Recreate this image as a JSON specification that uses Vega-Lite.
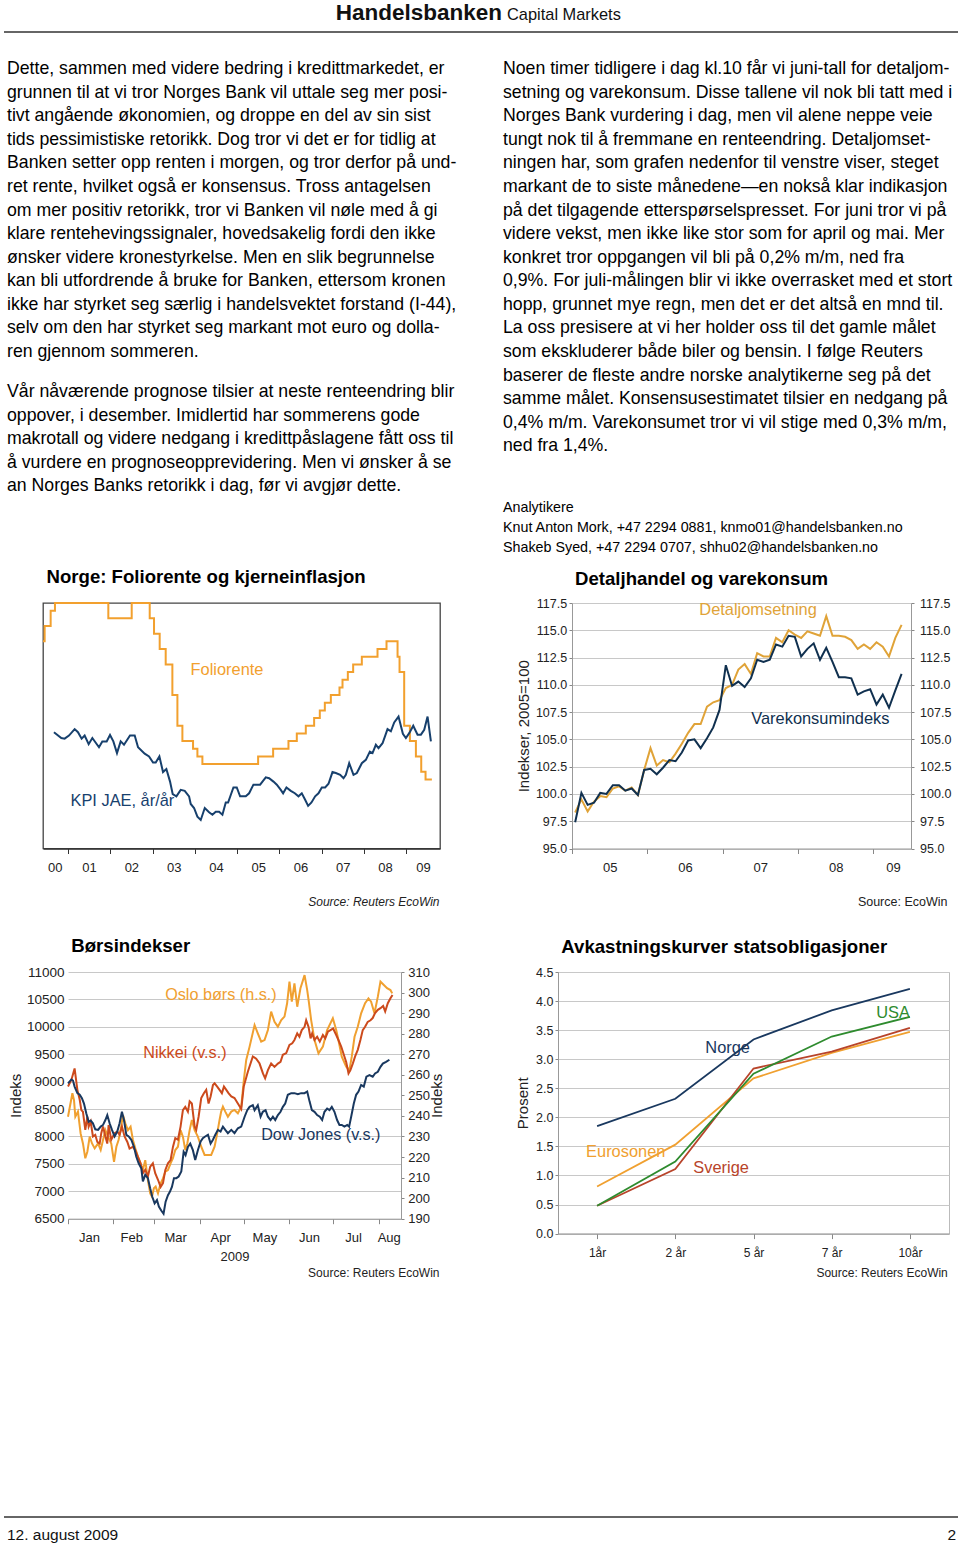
{
"$schema": "https://vega.github.io/schema/vega-lite/v6.json",
"background": "white",
"padding": {"left": 3, "top": 0, "right": 0, "bottom": 0},
"config": {
  "view": {"stroke": null},
  "font": "Liberation Sans, Arial, sans-serif",
  "axis": {"labelFont": "Liberation Sans, Arial, sans-serif", "labelFontSize": 12.5, "labelColor": "#222", "titleFont": "Liberation Sans, Arial, sans-serif", "titleFontWeight": "normal", "titleFontSize": 15, "titleColor": "#222", "tickColor": "#888", "domainColor": "#999", "gridColor": "#c8c8c8", "gridWidth": 1, "labelFlush": false, "labelOverlap": false},
  "title": {"font": "Liberation Sans, Arial, sans-serif", "fontWeight": "bold", "fontSize": 18.6, "color": "#000", "anchor": "start", "frame": "group", "baseline": "alphabetic", "offset": 12.5},
  "text": {"font": "Liberation Sans, Arial, sans-serif"}
},
"datasets": {
  "body": [
    {"col": "L", "row": 1, "text": "Dette, sammen med videre bedring i kredittmarkedet, er"},
    {"col": "L", "row": 2, "text": "grunnen til at vi tror Norges Bank vil uttale seg mer posi-"},
    {"col": "L", "row": 3, "text": "tivt angående økonomien, og droppe en del av sin sist"},
    {"col": "L", "row": 4, "text": "tids pessimistiske retorikk. Dog tror vi det er for tidlig at"},
    {"col": "L", "row": 5, "text": "Banken setter opp renten i morgen, og tror derfor på und-"},
    {"col": "L", "row": 6, "text": "ret rente, hvilket også er konsensus. Tross antagelsen"},
    {"col": "L", "row": 7, "text": "om mer positiv retorikk, tror vi Banken vil nøle med å gi"},
    {"col": "L", "row": 8, "text": "klare rentehevingssignaler, hovedsakelig fordi den ikke"},
    {"col": "L", "row": 9, "text": "ønsker videre kronestyrkelse. Men en slik begrunnelse"},
    {"col": "L", "row": 10, "text": "kan bli utfordrende å bruke for Banken, ettersom kronen"},
    {"col": "L", "row": 11, "text": "ikke har styrket seg særlig i handelsvektet forstand (I-44),"},
    {"col": "L", "row": 12, "text": "selv om den har styrket seg markant mot euro og dolla-"},
    {"col": "L", "row": 13, "text": "ren gjennom sommeren."},
    {"col": "L", "row": 14.7, "text": "Vår nåværende prognose tilsier at neste renteendring blir"},
    {"col": "L", "row": 15.7, "text": "oppover, i desember. Imidlertid har sommerens gode"},
    {"col": "L", "row": 16.7, "text": "makrotall og videre nedgang i kredittpåslagene fått oss til"},
    {"col": "L", "row": 17.7, "text": "å vurdere en prognoseopprevidering. Men vi ønsker å se"},
    {"col": "L", "row": 18.7, "text": "an Norges Banks retorikk i dag, før vi avgjør dette."},
    {"col": "R", "row": 1, "text": "Noen timer tidligere i dag kl.10 får vi juni-tall for detaljom-"},
    {"col": "R", "row": 2, "text": "setning og varekonsum. Disse tallene vil nok bli tatt med i"},
    {"col": "R", "row": 3, "text": "Norges Bank vurdering i dag, men vil alene neppe veie"},
    {"col": "R", "row": 4, "text": "tungt nok til å fremmane en renteendring. Detaljomset-"},
    {"col": "R", "row": 5, "text": "ningen har, som grafen nedenfor til venstre viser, steget"},
    {"col": "R", "row": 6, "text": "markant de to siste månedene—en nokså klar indikasjon"},
    {"col": "R", "row": 7, "text": "på det tilgagende etterspørselspresset. For juni tror vi på"},
    {"col": "R", "row": 8, "text": "videre vekst, men ikke like stor som for april og mai. Mer"},
    {"col": "R", "row": 9, "text": "konkret tror oppgangen vil bli på 0,2% m/m, ned fra"},
    {"col": "R", "row": 10, "text": "0,9%. For juli-målingen blir vi ikke overrasket med et stort"},
    {"col": "R", "row": 11, "text": "hopp, grunnet mye regn, men det er det altså en mnd til."},
    {"col": "R", "row": 12, "text": "La oss presisere at vi her holder oss til det gamle målet"},
    {"col": "R", "row": 13, "text": "som ekskluderer både biler og bensin. I følge Reuters"},
    {"col": "R", "row": 14, "text": "baserer de fleste andre norske analytikerne seg på det"},
    {"col": "R", "row": 15, "text": "samme målet. Konsensusestimatet tilsier en nedgang på"},
    {"col": "R", "row": 16, "text": "0,4% m/m.  Varekonsumet tror vi vil stige med 0,3% m/m,"},
    {"col": "R", "row": 17, "text": "ned fra 1,4%."}
  ],
  "analysts": [
    {"col": "R", "row": 19.62, "text": "Analytikere"},
    {"col": "R", "row": 20.47, "text": "Knut Anton Mork, +47 2294 0881, knmo01@handelsbanken.no"},
    {"col": "R", "row": 21.32, "text": "Shakeb Syed, +47 2294 0707, shhu02@handelsbanken.no"}
  ],
  "folio": [
    {"t":2000.41,"v":5.75},{"t":2000.449,"v":6.25},{"t":2000.591,"v":6.75},{"t":2000.693,"v":7.0},{"t":2001.955,"v":6.5},{"t":2002.508,"v":7.0},{"t":2002.934,"v":6.5},{"t":2003.036,"v":6.0},{"t":2003.17,"v":5.5},{"t":2003.312,"v":5.0},{"t":2003.47,"v":4.0},{"t":2003.589,"v":3.0},{"t":2003.707,"v":2.5},{"t":2003.959,"v":2.25},{"t":2004.062,"v":2.0},{"t":2004.18,"v":1.75},{"t":2005.498,"v":2.0},{"t":2005.853,"v":2.25},{"t":2006.216,"v":2.5},{"t":2006.413,"v":2.75},{"t":2006.626,"v":3.0},{"t":2006.823,"v":3.25},{"t":2006.957,"v":3.5},{"t":2007.076,"v":3.75},{"t":2007.218,"v":4.0},{"t":2007.423,"v":4.25},{"t":2007.494,"v":4.5},{"t":2007.62,"v":4.75},{"t":2007.746,"v":5.0},{"t":2007.951,"v":5.25},{"t":2008.322,"v":5.5},{"t":2008.535,"v":5.75},{"t":2008.796,"v":5.25},{"t":2008.843,"v":4.75},{"t":2008.953,"v":3.0},{"t":2009.088,"v":2.5},{"t":2009.23,"v":2.0},{"t":2009.356,"v":1.5},{"t":2009.458,"v":1.25},{"t":2009.608,"v":1.25}
  ],
  "kpi": [
    {"t":2000.669,"v":2.79},{"t":2000.843,"v":2.6},{"t":2000.922,"v":2.58},{"t":2001.024,"v":2.68},{"t":2001.159,"v":2.89},{"t":2001.237,"v":2.79},{"t":2001.324,"v":2.58},{"t":2001.395,"v":2.68},{"t":2001.49,"v":2.4},{"t":2001.577,"v":2.6},{"t":2001.734,"v":2.3},{"t":2001.813,"v":2.49},{"t":2001.916,"v":2.49},{"t":2001.995,"v":2.7},{"t":2002.074,"v":2.49},{"t":2002.16,"v":2.11},{"t":2002.247,"v":2.49},{"t":2002.326,"v":2.38},{"t":2002.468,"v":2.68},{"t":2002.579,"v":2.68},{"t":2002.658,"v":2.3},{"t":2002.815,"v":2.09},{"t":2002.918,"v":2.0},{"t":2003.013,"v":1.8},{"t":2003.076,"v":1.8},{"t":2003.163,"v":2.0},{"t":2003.249,"v":1.49},{"t":2003.328,"v":1.59},{"t":2003.415,"v":1.18},{"t":2003.478,"v":0.77},{"t":2003.565,"v":0.7},{"t":2003.667,"v":0.91},{"t":2003.762,"v":0.88},{"t":2003.865,"v":0.7},{"t":2003.904,"v":0.45},{"t":2003.983,"v":0.32},{"t":2004.062,"v":0.04},{"t":2004.141,"v":-0.07},{"t":2004.236,"v":0.32},{"t":2004.338,"v":0.18},{"t":2004.417,"v":0.1},{"t":2004.496,"v":0.2},{"t":2004.575,"v":0.2},{"t":2004.654,"v":0.1},{"t":2004.733,"v":0.5},{"t":2004.788,"v":0.5},{"t":2004.914,"v":0.99},{"t":2004.993,"v":0.99},{"t":2005.072,"v":0.7},{"t":2005.206,"v":0.7},{"t":2005.285,"v":0.8},{"t":2005.387,"v":1.08},{"t":2005.545,"v":1.08},{"t":2005.601,"v":1.18},{"t":2005.679,"v":1.32},{"t":2005.758,"v":1.29},{"t":2005.861,"v":1.18},{"t":2005.94,"v":1.08},{"t":2006.034,"v":0.91},{"t":2006.089,"v":0.8},{"t":2006.168,"v":0.99},{"t":2006.271,"v":0.88},{"t":2006.366,"v":0.8},{"t":2006.453,"v":0.7},{"t":2006.531,"v":0.8},{"t":2006.61,"v":0.59},{"t":2006.681,"v":0.39},{"t":2006.76,"v":0.5},{"t":2006.847,"v":0.7},{"t":2006.926,"v":0.8},{"t":2007.005,"v":0.99},{"t":2007.083,"v":0.99},{"t":2007.163,"v":1.11},{"t":2007.257,"v":1.49},{"t":2007.336,"v":1.46},{"t":2007.439,"v":1.4},{"t":2007.518,"v":1.29},{"t":2007.573,"v":1.4},{"t":2007.652,"v":1.78},{"t":2007.754,"v":1.4},{"t":2007.833,"v":1.46},{"t":2007.951,"v":1.78},{"t":2008.046,"v":1.89},{"t":2008.141,"v":2.16},{"t":2008.204,"v":2.11},{"t":2008.283,"v":2.38},{"t":2008.346,"v":2.27},{"t":2008.441,"v":2.43},{"t":2008.559,"v":2.89},{"t":2008.638,"v":2.82},{"t":2008.717,"v":3.11},{"t":2008.819,"v":3.3},{"t":2008.922,"v":2.74},{"t":2008.993,"v":2.6},{"t":2009.072,"v":2.76},{"t":2009.167,"v":3.0},{"t":2009.269,"v":2.71},{"t":2009.348,"v":2.71},{"t":2009.427,"v":2.87},{"t":2009.506,"v":3.3},{"t":2009.585,"v":2.49}
  ],
  "retail": [
    {"t":2005.042,"s":"Detaljomsetning","v":98.3},{"t":2005.125,"s":"Detaljomsetning","v":99.5},{"t":2005.208,"s":"Detaljomsetning","v":98.4},{"t":2005.292,"s":"Detaljomsetning","v":99.3},{"t":2005.375,"s":"Detaljomsetning","v":99.8},{"t":2005.458,"s":"Detaljomsetning","v":99.7},{"t":2005.542,"s":"Detaljomsetning","v":100.5},{"t":2005.625,"s":"Detaljomsetning","v":100.7},{"t":2005.708,"s":"Detaljomsetning","v":100.3},{"t":2005.792,"s":"Detaljomsetning","v":100.6},{"t":2005.875,"s":"Detaljomsetning","v":99.9},{"t":2005.958,"s":"Detaljomsetning","v":102.2},
    {"t":2006.042,"s":"Detaljomsetning","v":104.2},{"t":2006.125,"s":"Detaljomsetning","v":102.6},{"t":2006.208,"s":"Detaljomsetning","v":103.1},{"t":2006.292,"s":"Detaljomsetning","v":102.9},{"t":2006.375,"s":"Detaljomsetning","v":103.7},{"t":2006.458,"s":"Detaljomsetning","v":104.6},{"t":2006.542,"s":"Detaljomsetning","v":105.6},{"t":2006.625,"s":"Detaljomsetning","v":106.4},{"t":2006.708,"s":"Detaljomsetning","v":106.4},{"t":2006.792,"s":"Detaljomsetning","v":108.0},{"t":2006.875,"s":"Detaljomsetning","v":108.4},{"t":2006.958,"s":"Detaljomsetning","v":108.6},
    {"t":2007.042,"s":"Detaljomsetning","v":109.7},{"t":2007.125,"s":"Detaljomsetning","v":110.0},{"t":2007.208,"s":"Detaljomsetning","v":111.4},{"t":2007.292,"s":"Detaljomsetning","v":111.9},{"t":2007.375,"s":"Detaljomsetning","v":111.0},{"t":2007.458,"s":"Detaljomsetning","v":112.9},{"t":2007.542,"s":"Detaljomsetning","v":112.6},{"t":2007.625,"s":"Detaljomsetning","v":112.6},{"t":2007.708,"s":"Detaljomsetning","v":114.3},{"t":2007.792,"s":"Detaljomsetning","v":113.9},{"t":2007.875,"s":"Detaljomsetning","v":115.0},{"t":2007.958,"s":"Detaljomsetning","v":114.6},
    {"t":2008.042,"s":"Detaljomsetning","v":114.3},{"t":2008.125,"s":"Detaljomsetning","v":114.9},{"t":2008.208,"s":"Detaljomsetning","v":114.7},{"t":2008.292,"s":"Detaljomsetning","v":114.5},{"t":2008.375,"s":"Detaljomsetning","v":116.3},{"t":2008.458,"s":"Detaljomsetning","v":114.5},{"t":2008.542,"s":"Detaljomsetning","v":114.5},{"t":2008.625,"s":"Detaljomsetning","v":114.4},{"t":2008.708,"s":"Detaljomsetning","v":114.1},{"t":2008.792,"s":"Detaljomsetning","v":113.3},{"t":2008.875,"s":"Detaljomsetning","v":113.7},{"t":2008.958,"s":"Detaljomsetning","v":113.3},
    {"t":2009.042,"s":"Detaljomsetning","v":113.9},{"t":2009.125,"s":"Detaljomsetning","v":113.5},{"t":2009.208,"s":"Detaljomsetning","v":112.6},{"t":2009.292,"s":"Detaljomsetning","v":114.3},{"t":2009.375,"s":"Detaljomsetning","v":115.5},
    {"t":2005.042,"s":"Varekonsumindeks","v":97.4},{"t":2005.125,"s":"Varekonsumindeks","v":100.1},{"t":2005.208,"s":"Varekonsumindeks","v":99.0},{"t":2005.292,"s":"Varekonsumindeks","v":99.2},{"t":2005.375,"s":"Varekonsumindeks","v":100.1},{"t":2005.458,"s":"Varekonsumindeks","v":100.0},{"t":2005.542,"s":"Varekonsumindeks","v":100.8},{"t":2005.625,"s":"Varekonsumindeks","v":100.8},{"t":2005.708,"s":"Varekonsumindeks","v":100.3},{"t":2005.792,"s":"Varekonsumindeks","v":100.5},{"t":2005.875,"s":"Varekonsumindeks","v":99.9},{"t":2005.958,"s":"Varekonsumindeks","v":102.2},
    {"t":2006.042,"s":"Varekonsumindeks","v":102.3},{"t":2006.125,"s":"Varekonsumindeks","v":101.8},{"t":2006.208,"s":"Varekonsumindeks","v":102.4},{"t":2006.292,"s":"Varekonsumindeks","v":103.1},{"t":2006.375,"s":"Varekonsumindeks","v":103.0},{"t":2006.458,"s":"Varekonsumindeks","v":103.8},{"t":2006.542,"s":"Varekonsumindeks","v":104.9},{"t":2006.625,"s":"Varekonsumindeks","v":105.0},{"t":2006.708,"s":"Varekonsumindeks","v":104.2},{"t":2006.792,"s":"Varekonsumindeks","v":105.1},{"t":2006.875,"s":"Varekonsumindeks","v":106.1},{"t":2006.958,"s":"Varekonsumindeks","v":107.7},
    {"t":2007.042,"s":"Varekonsumindeks","v":111.8},{"t":2007.125,"s":"Varekonsumindeks","v":109.9},{"t":2007.208,"s":"Varekonsumindeks","v":110.3},{"t":2007.292,"s":"Varekonsumindeks","v":109.8},{"t":2007.375,"s":"Varekonsumindeks","v":110.6},{"t":2007.458,"s":"Varekonsumindeks","v":112.3},{"t":2007.542,"s":"Varekonsumindeks","v":112.1},{"t":2007.625,"s":"Varekonsumindeks","v":112.3},{"t":2007.708,"s":"Varekonsumindeks","v":113.7},{"t":2007.792,"s":"Varekonsumindeks","v":113.5},{"t":2007.875,"s":"Varekonsumindeks","v":114.5},{"t":2007.958,"s":"Varekonsumindeks","v":114.4},
    {"t":2008.042,"s":"Varekonsumindeks","v":112.6},{"t":2008.125,"s":"Varekonsumindeks","v":113.3},{"t":2008.208,"s":"Varekonsumindeks","v":113.8},{"t":2008.292,"s":"Varekonsumindeks","v":112.3},{"t":2008.375,"s":"Varekonsumindeks","v":113.4},{"t":2008.458,"s":"Varekonsumindeks","v":112.1},{"t":2008.542,"s":"Varekonsumindeks","v":110.7},{"t":2008.625,"s":"Varekonsumindeks","v":110.7},{"t":2008.708,"s":"Varekonsumindeks","v":110.6},{"t":2008.792,"s":"Varekonsumindeks","v":109.1},{"t":2008.875,"s":"Varekonsumindeks","v":109.4},{"t":2008.958,"s":"Varekonsumindeks","v":109.6},
    {"t":2009.042,"s":"Varekonsumindeks","v":108.2},{"t":2009.125,"s":"Varekonsumindeks","v":109.1},{"t":2009.208,"s":"Varekonsumindeks","v":107.9},{"t":2009.292,"s":"Varekonsumindeks","v":109.5},{"t":2009.375,"s":"Varekonsumindeks","v":111.0}
  ],
  "stocks": [
    {"d":1.0,"s":"Nikkei (v.s.)","v":8910},{"d":3.3,"s":"Nikkei (v.s.)","v":9030},{"d":5.5,"s":"Nikkei (v.s.)","v":9240},{"d":7.4,"s":"Nikkei (v.s.)","v":8850},{"d":9.0,"s":"Nikkei (v.s.)","v":8670},{"d":10.1,"s":"Nikkei (v.s.)","v":8480},{"d":11.2,"s":"Nikkei (v.s.)","v":8450},{"d":12.8,"s":"Nikkei (v.s.)","v":8120},{"d":14.2,"s":"Nikkei (v.s.)","v":8360},{"d":15.1,"s":"Nikkei (v.s.)","v":8180},{"d":16.5,"s":"Nikkei (v.s.)","v":8270},{"d":18.0,"s":"Nikkei (v.s.)","v":8000},{"d":19.6,"s":"Nikkei (v.s.)","v":8030},{"d":21.0,"s":"Nikkei (v.s.)","v":7900},{"d":22.6,"s":"Nikkei (v.s.)","v":7870},{"d":23.7,"s":"Nikkei (v.s.)","v":8060},{"d":24.9,"s":"Nikkei (v.s.)","v":8180},{"d":26.5,"s":"Nikkei (v.s.)","v":8000},{"d":27.8,"s":"Nikkei (v.s.)","v":7870},{"d":28.7,"s":"Nikkei (v.s.)","v":8210},{"d":30.5,"s":"Nikkei (v.s.)","v":7940},{"d":32.8,"s":"Nikkei (v.s.)","v":8060},{"d":34.6,"s":"Nikkei (v.s.)","v":8090},{"d":36.2,"s":"Nikkei (v.s.)","v":8030},{"d":37.8,"s":"Nikkei (v.s.)","v":8180},{"d":39.6,"s":"Nikkei (v.s.)","v":8000},{"d":41.5,"s":"Nikkei (v.s.)","v":7900},{"d":43.0,"s":"Nikkei (v.s.)","v":7780},{"d":45.3,"s":"Nikkei (v.s.)","v":7810},{"d":46.9,"s":"Nikkei (v.s.)","v":7750},{"d":48.7,"s":"Nikkei (v.s.)","v":7630},{"d":50.5,"s":"Nikkei (v.s.)","v":7510},{"d":52.1,"s":"Nikkei (v.s.)","v":7330},{"d":53.7,"s":"Nikkei (v.s.)","v":7390},{"d":55.5,"s":"Nikkei (v.s.)","v":7270},{"d":57.1,"s":"Nikkei (v.s.)","v":7450},{"d":58.9,"s":"Nikkei (v.s.)","v":7510},{"d":60.5,"s":"Nikkei (v.s.)","v":7330},{"d":62.4,"s":"Nikkei (v.s.)","v":7210},{"d":64.2,"s":"Nikkei (v.s.)","v":7080},{"d":65.8,"s":"Nikkei (v.s.)","v":7150},{"d":67.4,"s":"Nikkei (v.s.)","v":7390},{"d":69.2,"s":"Nikkei (v.s.)","v":7510},{"d":71.0,"s":"Nikkei (v.s.)","v":7570},{"d":72.6,"s":"Nikkei (v.s.)","v":7810},{"d":74.2,"s":"Nikkei (v.s.)","v":7970},{"d":76.0,"s":"Nikkei (v.s.)","v":7940},{"d":77.8,"s":"Nikkei (v.s.)","v":8180},{"d":79.4,"s":"Nikkei (v.s.)","v":8480},{"d":81.0,"s":"Nikkei (v.s.)","v":8540},{"d":82.8,"s":"Nikkei (v.s.)","v":8450},{"d":84.0,"s":"Nikkei (v.s.)","v":8640},{"d":85.5,"s":"Nikkei (v.s.)","v":8600},{"d":87.4,"s":"Nikkei (v.s.)","v":8180},{"d":88.5,"s":"Nikkei (v.s.)","v":8120},{"d":90.1,"s":"Nikkei (v.s.)","v":8360},{"d":91.9,"s":"Nikkei (v.s.)","v":8700},{"d":93.7,"s":"Nikkei (v.s.)","v":8790},{"d":95.3,"s":"Nikkei (v.s.)","v":8850},{"d":96.9,"s":"Nikkei (v.s.)","v":8600},{"d":98.3,"s":"Nikkei (v.s.)","v":8730},{"d":99.9,"s":"Nikkei (v.s.)","v":8940},{"d":101.0,"s":"Nikkei (v.s.)","v":8970},{"d":102.8,"s":"Nikkei (v.s.)","v":8910},{"d":104.4,"s":"Nikkei (v.s.)","v":8850},{"d":106.0,"s":"Nikkei (v.s.)","v":8790},{"d":107.4,"s":"Nikkei (v.s.)","v":8910},{"d":109.0,"s":"Nikkei (v.s.)","v":8850},{"d":110.5,"s":"Nikkei (v.s.)","v":8790},{"d":112.4,"s":"Nikkei (v.s.)","v":8730},{"d":114.6,"s":"Nikkei (v.s.)","v":8700},{"d":116.9,"s":"Nikkei (v.s.)","v":8600},{"d":119.2,"s":"Nikkei (v.s.)","v":8500},{"d":120.9,"s":"Nikkei (v.s.)","v":8910},{"d":123.7,"s":"Nikkei (v.s.)","v":9180},{"d":127.1,"s":"Nikkei (v.s.)","v":9460},{"d":129.4,"s":"Nikkei (v.s.)","v":9420},{"d":131.7,"s":"Nikkei (v.s.)","v":9330},{"d":134.0,"s":"Nikkei (v.s.)","v":9150},{"d":135.5,"s":"Nikkei (v.s.)","v":9060},{"d":137.4,"s":"Nikkei (v.s.)","v":9210},{"d":139.6,"s":"Nikkei (v.s.)","v":9330},{"d":141.9,"s":"Nikkei (v.s.)","v":9270},{"d":144.2,"s":"Nikkei (v.s.)","v":9330},{"d":146.0,"s":"Nikkei (v.s.)","v":9360},{"d":147.6,"s":"Nikkei (v.s.)","v":9490},{"d":149.9,"s":"Nikkei (v.s.)","v":9520},{"d":152.1,"s":"Nikkei (v.s.)","v":9670},{"d":154.0,"s":"Nikkei (v.s.)","v":9700},{"d":155.5,"s":"Nikkei (v.s.)","v":9760},{"d":157.4,"s":"Nikkei (v.s.)","v":9880},{"d":158.9,"s":"Nikkei (v.s.)","v":9820},{"d":160.5,"s":"Nikkei (v.s.)","v":9940},{"d":162.4,"s":"Nikkei (v.s.)","v":10000},{"d":163.5,"s":"Nikkei (v.s.)","v":10120},{"d":165.1,"s":"Nikkei (v.s.)","v":10000},{"d":166.5,"s":"Nikkei (v.s.)","v":9790},{"d":167.6,"s":"Nikkei (v.s.)","v":9880},{"d":169.2,"s":"Nikkei (v.s.)","v":9760},{"d":171.0,"s":"Nikkei (v.s.)","v":9820},{"d":172.8,"s":"Nikkei (v.s.)","v":9730},{"d":174.9,"s":"Nikkei (v.s.)","v":9850},{"d":176.5,"s":"Nikkei (v.s.)","v":9790},{"d":178.3,"s":"Nikkei (v.s.)","v":9910},{"d":180.1,"s":"Nikkei (v.s.)","v":9940},{"d":181.9,"s":"Nikkei (v.s.)","v":9970},{"d":184.0,"s":"Nikkei (v.s.)","v":9850},{"d":185.5,"s":"Nikkei (v.s.)","v":9760},{"d":187.4,"s":"Nikkei (v.s.)","v":9640},{"d":189.2,"s":"Nikkei (v.s.)","v":9490},{"d":190.8,"s":"Nikkei (v.s.)","v":9360},{"d":192.4,"s":"Nikkei (v.s.)","v":9150},{"d":193.7,"s":"Nikkei (v.s.)","v":9210},{"d":195.3,"s":"Nikkei (v.s.)","v":9330},{"d":196.9,"s":"Nikkei (v.s.)","v":9460},{"d":198.7,"s":"Nikkei (v.s.)","v":9580},{"d":200.5,"s":"Nikkei (v.s.)","v":9760},{"d":202.1,"s":"Nikkei (v.s.)","v":9940},{"d":203.7,"s":"Nikkei (v.s.)","v":10000},{"d":205.5,"s":"Nikkei (v.s.)","v":10090},{"d":207.4,"s":"Nikkei (v.s.)","v":10120},{"d":208.9,"s":"Nikkei (v.s.)","v":10160},{"d":210.5,"s":"Nikkei (v.s.)","v":10250},{"d":212.4,"s":"Nikkei (v.s.)","v":10310},{"d":214.2,"s":"Nikkei (v.s.)","v":10340},{"d":216.0,"s":"Nikkei (v.s.)","v":10380},{"d":217.4,"s":"Nikkei (v.s.)","v":10280},{"d":219.2,"s":"Nikkei (v.s.)","v":10430},{"d":221.0,"s":"Nikkei (v.s.)","v":10520},{"d":222.4,"s":"Nikkei (v.s.)","v":10580},
    {"d":1.0,"s":"Dow Jones (v.s.)","v":8970},{"d":3.3,"s":"Dow Jones (v.s.)","v":9040},{"d":4.4,"s":"Dow Jones (v.s.)","v":9020},{"d":5.5,"s":"Dow Jones (v.s.)","v":8910},{"d":7.4,"s":"Dow Jones (v.s.)","v":8790},{"d":9.0,"s":"Dow Jones (v.s.)","v":8760},{"d":10.5,"s":"Dow Jones (v.s.)","v":8700},{"d":11.9,"s":"Dow Jones (v.s.)","v":8600},{"d":13.5,"s":"Dow Jones (v.s.)","v":8420},{"d":15.1,"s":"Dow Jones (v.s.)","v":8270},{"d":16.5,"s":"Dow Jones (v.s.)","v":8290},{"d":18.0,"s":"Dow Jones (v.s.)","v":8240},{"d":19.6,"s":"Dow Jones (v.s.)","v":8130},{"d":21.5,"s":"Dow Jones (v.s.)","v":8120},{"d":23.3,"s":"Dow Jones (v.s.)","v":8180},{"d":24.9,"s":"Dow Jones (v.s.)","v":8210},{"d":26.5,"s":"Dow Jones (v.s.)","v":8300},{"d":27.8,"s":"Dow Jones (v.s.)","v":8390},{"d":29.4,"s":"Dow Jones (v.s.)","v":8240},{"d":31.0,"s":"Dow Jones (v.s.)","v":8120},{"d":32.8,"s":"Dow Jones (v.s.)","v":8000},{"d":34.6,"s":"Dow Jones (v.s.)","v":8090},{"d":36.2,"s":"Dow Jones (v.s.)","v":8240},{"d":37.8,"s":"Dow Jones (v.s.)","v":8450},{"d":39.2,"s":"Dow Jones (v.s.)","v":8300},{"d":40.8,"s":"Dow Jones (v.s.)","v":8030},{"d":42.4,"s":"Dow Jones (v.s.)","v":8000},{"d":44.2,"s":"Dow Jones (v.s.)","v":7940},{"d":46.0,"s":"Dow Jones (v.s.)","v":7810},{"d":47.6,"s":"Dow Jones (v.s.)","v":7630},{"d":49.2,"s":"Dow Jones (v.s.)","v":7510},{"d":51.0,"s":"Dow Jones (v.s.)","v":7420},{"d":52.1,"s":"Dow Jones (v.s.)","v":7180},{"d":53.7,"s":"Dow Jones (v.s.)","v":7300},{"d":55.5,"s":"Dow Jones (v.s.)","v":7240},{"d":57.1,"s":"Dow Jones (v.s.)","v":7050},{"d":58.5,"s":"Dow Jones (v.s.)","v":6900},{"d":60.1,"s":"Dow Jones (v.s.)","v":6780},{"d":61.7,"s":"Dow Jones (v.s.)","v":6840},{"d":63.0,"s":"Dow Jones (v.s.)","v":6720},{"d":64.6,"s":"Dow Jones (v.s.)","v":6650},{"d":66.2,"s":"Dow Jones (v.s.)","v":6590},{"d":67.6,"s":"Dow Jones (v.s.)","v":6810},{"d":69.2,"s":"Dow Jones (v.s.)","v":6930},{"d":70.5,"s":"Dow Jones (v.s.)","v":6990},{"d":71.9,"s":"Dow Jones (v.s.)","v":7080},{"d":73.3,"s":"Dow Jones (v.s.)","v":7240},{"d":74.9,"s":"Dow Jones (v.s.)","v":7240},{"d":76.5,"s":"Dow Jones (v.s.)","v":7270},{"d":78.3,"s":"Dow Jones (v.s.)","v":7360},{"d":79.9,"s":"Dow Jones (v.s.)","v":7720},{"d":81.2,"s":"Dow Jones (v.s.)","v":7660},{"d":82.8,"s":"Dow Jones (v.s.)","v":7810},{"d":84.4,"s":"Dow Jones (v.s.)","v":7870},{"d":86.2,"s":"Dow Jones (v.s.)","v":7750},{"d":87.8,"s":"Dow Jones (v.s.)","v":7570},{"d":89.6,"s":"Dow Jones (v.s.)","v":7750},{"d":91.5,"s":"Dow Jones (v.s.)","v":7910},{"d":93.0,"s":"Dow Jones (v.s.)","v":7970},{"d":94.6,"s":"Dow Jones (v.s.)","v":8000},{"d":96.5,"s":"Dow Jones (v.s.)","v":8030},{"d":98.3,"s":"Dow Jones (v.s.)","v":7870},{"d":99.9,"s":"Dow Jones (v.s.)","v":7940},{"d":101.5,"s":"Dow Jones (v.s.)","v":8030},{"d":103.3,"s":"Dow Jones (v.s.)","v":8120},{"d":105.1,"s":"Dow Jones (v.s.)","v":8090},{"d":106.7,"s":"Dow Jones (v.s.)","v":8180},{"d":108.3,"s":"Dow Jones (v.s.)","v":8120},{"d":110.1,"s":"Dow Jones (v.s.)","v":8060},{"d":112.4,"s":"Dow Jones (v.s.)","v":8120},{"d":114.6,"s":"Dow Jones (v.s.)","v":8060},{"d":116.9,"s":"Dow Jones (v.s.)","v":8150},{"d":119.2,"s":"Dow Jones (v.s.)","v":8180},{"d":121.5,"s":"Dow Jones (v.s.)","v":8360},{"d":123.3,"s":"Dow Jones (v.s.)","v":8480},{"d":124.9,"s":"Dow Jones (v.s.)","v":8540},{"d":127.1,"s":"Dow Jones (v.s.)","v":8570},{"d":128.3,"s":"Dow Jones (v.s.)","v":8480},{"d":130.5,"s":"Dow Jones (v.s.)","v":8570},{"d":132.4,"s":"Dow Jones (v.s.)","v":8360},{"d":133.9,"s":"Dow Jones (v.s.)","v":8450},{"d":135.8,"s":"Dow Jones (v.s.)","v":8480},{"d":137.4,"s":"Dow Jones (v.s.)","v":8360},{"d":139.2,"s":"Dow Jones (v.s.)","v":8300},{"d":140.8,"s":"Dow Jones (v.s.)","v":8360},{"d":142.4,"s":"Dow Jones (v.s.)","v":8300},{"d":144.2,"s":"Dow Jones (v.s.)","v":8390},{"d":146.0,"s":"Dow Jones (v.s.)","v":8450},{"d":147.6,"s":"Dow Jones (v.s.)","v":8540},{"d":149.2,"s":"Dow Jones (v.s.)","v":8600},{"d":151.0,"s":"Dow Jones (v.s.)","v":8760},{"d":153.3,"s":"Dow Jones (v.s.)","v":8790},{"d":155.5,"s":"Dow Jones (v.s.)","v":8790},{"d":157.8,"s":"Dow Jones (v.s.)","v":8770},{"d":160.1,"s":"Dow Jones (v.s.)","v":8790},{"d":162.4,"s":"Dow Jones (v.s.)","v":8790},{"d":164.2,"s":"Dow Jones (v.s.)","v":8820},{"d":165.8,"s":"Dow Jones (v.s.)","v":8640},{"d":167.4,"s":"Dow Jones (v.s.)","v":8480},{"d":169.2,"s":"Dow Jones (v.s.)","v":8450},{"d":171.0,"s":"Dow Jones (v.s.)","v":8390},{"d":172.8,"s":"Dow Jones (v.s.)","v":8360},{"d":174.4,"s":"Dow Jones (v.s.)","v":8300},{"d":176.0,"s":"Dow Jones (v.s.)","v":8450},{"d":177.8,"s":"Dow Jones (v.s.)","v":8510},{"d":179.4,"s":"Dow Jones (v.s.)","v":8480},{"d":181.0,"s":"Dow Jones (v.s.)","v":8540},{"d":182.8,"s":"Dow Jones (v.s.)","v":8450},{"d":184.6,"s":"Dow Jones (v.s.)","v":8300},{"d":186.2,"s":"Dow Jones (v.s.)","v":8210},{"d":187.8,"s":"Dow Jones (v.s.)","v":8210},{"d":189.6,"s":"Dow Jones (v.s.)","v":8180},{"d":191.5,"s":"Dow Jones (v.s.)","v":8210},{"d":192.8,"s":"Dow Jones (v.s.)","v":8180},{"d":194.2,"s":"Dow Jones (v.s.)","v":8360},{"d":196.0,"s":"Dow Jones (v.s.)","v":8600},{"d":197.6,"s":"Dow Jones (v.s.)","v":8760},{"d":199.2,"s":"Dow Jones (v.s.)","v":8820},{"d":201.0,"s":"Dow Jones (v.s.)","v":8940},{"d":202.8,"s":"Dow Jones (v.s.)","v":8910},{"d":204.6,"s":"Dow Jones (v.s.)","v":9090},{"d":206.7,"s":"Dow Jones (v.s.)","v":9120},{"d":208.9,"s":"Dow Jones (v.s.)","v":9090},{"d":210.5,"s":"Dow Jones (v.s.)","v":9150},{"d":212.4,"s":"Dow Jones (v.s.)","v":9180},{"d":214.2,"s":"Dow Jones (v.s.)","v":9270},{"d":215.8,"s":"Dow Jones (v.s.)","v":9330},{"d":218.0,"s":"Dow Jones (v.s.)","v":9360},{"d":220.3,"s":"Dow Jones (v.s.)","v":9400}
  ],
  "oslo": [
    {"d":1.0,"v":239.6},{"d":4.0,"v":251.0},{"d":5.1,"v":247.7},{"d":6.0,"v":239.6},{"d":7.8,"v":242.1},{"d":9.6,"v":231.5},{"d":11.2,"v":226.6},{"d":12.8,"v":219.4},{"d":14.2,"v":222.6},{"d":15.8,"v":229.9},{"d":17.4,"v":226.6},{"d":19.2,"v":224.2},{"d":21.5,"v":226.6},{"d":23.3,"v":223.4},{"d":24.9,"v":228.3},{"d":26.5,"v":233.1},{"d":28.3,"v":229.9},{"d":30.5,"v":226.6},{"d":32.4,"v":217.7},{"d":34.0,"v":225.0},{"d":35.5,"v":228.3},{"d":36.9,"v":233.1},{"d":38.5,"v":240.4},{"d":40.1,"v":236.4},{"d":41.9,"v":233.1},{"d":43.7,"v":234.8},{"d":45.3,"v":228.3},{"d":46.9,"v":224.2},{"d":48.7,"v":220.2},{"d":50.5,"v":216.9},{"d":52.1,"v":213.7},{"d":53.7,"v":218.5},{"d":55.5,"v":208.8},{"d":57.1,"v":202.3},{"d":58.3,"v":200.7},{"d":59.6,"v":204.8},{"d":60.8,"v":205.6},{"d":62.4,"v":202.3},{"d":64.2,"v":207.2},{"d":65.8,"v":209.6},{"d":67.4,"v":212.9},{"d":69.2,"v":213.7},{"d":71.0,"v":216.9},{"d":72.6,"v":219.4},{"d":74.2,"v":223.4},{"d":76.0,"v":225.0},{"d":77.8,"v":233.1},{"d":79.4,"v":229.9},{"d":81.0,"v":223.4},{"d":82.4,"v":226.6},{"d":84.0,"v":233.1},{"d":85.5,"v":238.0},{"d":87.4,"v":233.1},{"d":89.6,"v":229.9},{"d":91.9,"v":225.0},{"d":94.2,"v":221.0},{"d":96.5,"v":221.0},{"d":98.7,"v":221.0},{"d":101.0,"v":225.0},{"d":102.8,"v":231.5},{"d":104.4,"v":238.0},{"d":105.5,"v":242.1},{"d":106.7,"v":244.5},{"d":108.3,"v":242.1},{"d":110.1,"v":239.6},{"d":112.4,"v":242.1},{"d":114.6,"v":242.9},{"d":116.9,"v":241.3},{"d":119.2,"v":244.5},{"d":121.0,"v":257.5},{"d":122.6,"v":267.2},{"d":124.9,"v":273.7},{"d":128.3,"v":284.2},{"d":130.5,"v":280.2},{"d":132.8,"v":276.1},{"d":135.1,"v":276.9},{"d":137.4,"v":281.8},{"d":139.6,"v":290.7},{"d":141.9,"v":285.8},{"d":144.2,"v":283.4},{"d":146.5,"v":286.6},{"d":148.7,"v":288.3},{"d":150.5,"v":294.8},{"d":152.1,"v":305.3},{"d":153.7,"v":295.6},{"d":155.5,"v":304.5},{"d":157.4,"v":293.1},{"d":159.6,"v":302.1},{"d":162.4,"v":308.5},{"d":164.2,"v":301.2},{"d":165.3,"v":295.6},{"d":166.9,"v":286.6},{"d":169.2,"v":276.9},{"d":171.9,"v":270.4},{"d":174.9,"v":273.7},{"d":177.8,"v":281.8},{"d":181.7,"v":287.5},{"d":184.0,"v":281.8},{"d":185.5,"v":276.9},{"d":187.8,"v":268.8},{"d":190.8,"v":263.9},{"d":193.0,"v":262.3},{"d":194.6,"v":268.8},{"d":196.5,"v":278.5},{"d":198.7,"v":283.4},{"d":201.0,"v":289.9},{"d":203.7,"v":294.8},{"d":206.0,"v":297.2},{"d":207.8,"v":295.6},{"d":210.1,"v":289.9},{"d":212.4,"v":298.0},{"d":214.2,"v":305.3},{"d":216.5,"v":303.7},{"d":218.7,"v":302.1},{"d":221.0,"v":301.2},{"d":222.2,"v":299.6}
  ],
  "yields": [
    {"m":"1år","c":"Norge","v":1.85},{"m":"2 år","c":"Norge","v":2.32},{"m":"5 år","c":"Norge","v":3.34},{"m":"7 år","c":"Norge","v":3.84},{"m":"10år","c":"Norge","v":4.21},
    {"m":"1år","c":"Eurosonen","v":0.81},{"m":"2 år","c":"Eurosonen","v":1.53},{"m":"5 år","c":"Eurosonen","v":2.67},{"m":"7 år","c":"Eurosonen","v":3.11},{"m":"10år","c":"Eurosonen","v":3.47},
    {"m":"1år","c":"Sverige","v":0.48},{"m":"2 år","c":"Sverige","v":1.11},{"m":"5 år","c":"Sverige","v":2.84},{"m":"7 år","c":"Sverige","v":3.13},{"m":"10år","c":"Sverige","v":3.54},
    {"m":"1år","c":"USA","v":0.48},{"m":"2 år","c":"USA","v":1.24},{"m":"5 år","c":"USA","v":2.75},{"m":"7 år","c":"USA","v":3.39},{"m":"10år","c":"USA","v":3.73}
  ]
},
"spacing": 0,
"bounds": "flush",
"resolve": {"scale": {"color": "independent"}},
"vconcat": [
  {"width": 954, "height": 32,
   "layer": [
     {"data": {"values": [{}]},
      "mark": {"type": "rule", "color": "#333", "strokeWidth": 1.3},
      "encoding": {"y": {"datum": 0, "type": "quantitative", "scale": {"domain": [0, 1]}, "axis": null}}},
     {"data": {"values": [{"t": "Handelsbanken"}]},
      "mark": {"type": "text", "align": "right", "baseline": "alphabetic", "dx": 21, "dy": 4, "fontSize": 22.5, "fontWeight": "bold", "color": "#111"},
      "encoding": {"x": {"datum": 0.5, "type": "quantitative", "scale": {"domain": [0, 1]}, "axis": null}, "text": {"field": "t"}}},
     {"data": {"values": [{"t": "Capital Markets"}]},
      "mark": {"type": "text", "align": "left", "baseline": "alphabetic", "dx": 26, "dy": 4, "fontSize": 16.4, "color": "#111"},
      "encoding": {"x": {"datum": 0.5, "type": "quantitative", "axis": null}, "text": {"field": "t"}}}
   ]},

  {"width": 496, "height": 571,
   "layer": [
     {"data": {"name": "body"},
      "mark": {"type": "text", "align": "left", "baseline": "middle", "dx": 3, "fontSize": 17.7, "color": "#000"},
      "encoding": {
        "x": {"field": "col", "type": "nominal", "scale": {"type": "point", "padding": 0, "domain": ["L", "R"]}, "axis": null},
        "y": {"field": "row", "type": "quantitative", "scale": {"domain": [-0.58, 23.656], "reverse": true, "nice": false, "zero": false}, "axis": null},
        "text": {"field": "text"}}},
     {"data": {"name": "analysts"},
      "mark": {"type": "text", "align": "left", "baseline": "middle", "dx": 3, "fontSize": 14.3, "color": "#000"},
      "encoding": {
        "x": {"field": "col", "type": "nominal", "axis": null},
        "y": {"field": "row", "type": "quantitative", "axis": null},
        "text": {"field": "text"}}}
   ]},

  {"spacing": 0, "bounds": "flush",
   "resolve": {"scale": {"color": "independent"}},
   "hconcat": [
    {"width": 39, "height": 1, "data": {"values": [{}]}, "mark": {"type": "text", "text": ""}},
    {"width": 397, "height": 245.5,
     "title": {"text": "Norge: Foliorente og kjerneinflasjon", "dx": 3.5},
     "view": {"stroke": "#444", "strokeWidth": 1.3},
     "layer": [
       {"data": {"name": "folio"},
        "mark": {"type": "line", "interpolate": "step-after", "color": "#f2a02e", "strokeWidth": 2},
        "encoding": {
          "x": {"field": "t", "type": "quantitative", "scale": {"domain": [2000.41, 2009.8], "nice": false, "zero": false},
                "axis": {"orient": "bottom", "values": [2001, 2002, 2003, 2004, 2005, 2006, 2007, 2008, 2009], "labels": false, "ticks": true, "tickSize": 5, "tickColor": "#333", "domainColor": "#333", "domainWidth": 1.3, "grid": false, "title": null}},
          "y": {"field": "v", "type": "quantitative", "scale": {"domain": [-1, 7], "nice": false, "zero": false},
                "axis": {"values": [-1, 0, 1, 2, 3, 4, 5, 6, 7], "format": "d", "grid": true, "domainColor": "#333", "domainWidth": 1.3, "tickColor": "#333", "tickSize": 3, "labelPadding": 2, "title": "Prosent", "titleX": -28.3, "titleBaseline": "middle"}}}},
       {"data": {"name": "kpi"},
        "mark": {"type": "line", "color": "#17406d", "strokeWidth": 2},
        "encoding": {
          "x": {"field": "t", "type": "quantitative",
                "axis": {"orient": "bottom", "values": [2000.69, 2001.5, 2002.5, 2003.5, 2004.5, 2005.5, 2006.5, 2007.5, 2008.5, 2009.4], "labelExpr": "format(floor(datum.value) % 100, '02d')", "ticks": false, "domain": false, "grid": false, "labelPadding": 19.3, "labelBaseline": "middle", "labelFontSize": 13, "title": "Source: Reuters EcoWin", "titleFontStyle": "italic", "titleFontSize": 12, "titleAlign": "right", "titleX": 396, "titleY": 53.3, "titleBaseline": "middle"}},
          "y": {"field": "v", "type": "quantitative", "axis": null}}},
       {"data": {"values": [{"t": 2003.9, "v": 4.83, "s": "Foliorente"}, {"t": 2001.06, "v": 0.55, "s": "KPI JAE, år/år"}]},
        "mark": {"type": "text", "align": "left", "baseline": "middle", "fontSize": 16.4},
        "encoding": {
          "x": {"field": "t", "type": "quantitative", "axis": null},
          "y": {"field": "v", "type": "quantitative", "axis": null},
          "text": {"field": "s"},
          "color": {"field": "s", "type": "nominal", "scale": {"domain": ["Foliorente", "KPI JAE, år/år"], "range": ["#f2a02e", "#17406d"]}, "legend": null}}}
     ],
     "resolve": {"axis": {"x": "independent"}}
    },
    {"width": 132, "height": 1, "data": {"values": [{}]}, "mark": {"type": "text", "text": ""}},
    {"width": 339, "height": 245.5,
     "title": {"text": "Detaljhandel og varekonsum", "dx": 3, "offset": 8.5},
     "layer": [
       {"data": {"name": "retail"},
        "mark": {"type": "line", "strokeWidth": 2},
        "encoding": {
          "x": {"field": "t", "type": "quantitative", "scale": {"domain": [2005, 2009.5], "nice": false, "zero": false},
                "axis": {"orient": "bottom", "values": [2005, 2006, 2007, 2008, 2009], "labels": false, "ticks": true, "tickSize": 5, "grid": false, "title": null}},
          "y": {"field": "v", "type": "quantitative", "scale": {"domain": [95, 117.5], "nice": false, "zero": false},
                "axis": {"orient": "left", "values": [95, 97.5, 100, 102.5, 105, 107.5, 110, 112.5, 115, 117.5], "format": ".1f", "grid": true, "tickSize": 3, "labelPadding": 2.3, "title": "Indekser, 2005=100", "titleX": -49, "titleBaseline": "middle"}},
          "color": {"field": "s", "type": "nominal", "scale": {"domain": ["Detaljomsetning", "Varekonsumindeks"], "range": ["#e0a338", "#10304f"]}, "legend": null}}},
       {"data": {"values": [{"t": 2006.69, "v": 116.83, "s": "Detaljomsetning"}, {"t": 2007.38, "v": 106.91, "s": "Varekonsumindeks"}]},
        "mark": {"type": "text", "align": "left", "baseline": "middle", "fontSize": 16.4},
        "encoding": {
          "x": {"field": "t", "type": "quantitative",
                "axis": {"orient": "bottom", "values": [2005.5, 2006.5, 2007.5, 2008.5, 2009.26], "labelExpr": "format(floor(datum.value) % 100, '02d')", "ticks": false, "domain": false, "grid": false, "labelPadding": 19.3, "labelBaseline": "middle", "labelFontSize": 13, "title": "Source: EcoWin", "titleFontSize": 12.5, "titleAlign": "right", "titleX": 375, "titleY": 53.3, "titleBaseline": "middle"}},
          "y": {"field": "v", "type": "quantitative",
                "axis": {"orient": "right", "values": [95, 97.5, 100, 102.5, 105, 107.5, 110, 112.5, 115, 117.5], "format": ".1f", "grid": false, "tickSize": 3, "labelPadding": 5.6, "title": null}},
          "text": {"field": "s"},
          "color": {"field": "s", "type": "nominal", "scale": {"domain": ["Detaljomsetning", "Varekonsumindeks"], "range": ["#e0a338", "#10304f"]}, "legend": null}}}
     ],
     "resolve": {"axis": {"x": "independent", "y": "independent"}}
    }
   ]},

  {"width": 1, "height": 369, "data": {"values": [{}]}, "mark": {"type": "text", "text": ""}},

  {"spacing": 0, "bounds": "flush",
   "resolve": {"scale": {"color": "independent"}},
   "hconcat": [
    {"width": 64, "height": 1, "data": {"values": [{}]}, "mark": {"type": "text", "text": ""}},
    {"width": 333, "height": 246.7,
     "title": {"text": "Børsindekser", "dx": 3.3, "offset": 9.5},
     "layer": [
       {"data": {"name": "oslo"},
        "mark": {"type": "line", "strokeWidth": 2},
        "encoding": {
          "x": {"field": "d", "type": "quantitative", "scale": {"domain": [1, 228.2], "nice": false, "zero": false},
                "axis": {"orient": "bottom", "values": [15.3, 44.2, 74.1, 104.8, 135, 165.5, 195.5, 219.8], "labelExpr": "datum.value < 32 ? 'Jan' : datum.value < 60 ? 'Feb' : datum.value < 91 ? 'Mar' : datum.value < 121 ? 'Apr' : datum.value < 152 ? 'May' : datum.value < 182 ? 'Jun' : datum.value < 213 ? 'Jul' : 'Aug'", "ticks": false, "domain": false, "grid": false, "labelPadding": 18.3, "labelBaseline": "middle", "labelFontSize": 13, "title": "Source: Reuters EcoWin", "titleFontSize": 12, "titleAlign": "right", "titleX": 371, "titleY": 53.3, "titleBaseline": "middle"}},
          "y": {"field": "v", "type": "quantitative", "scale": {"domain": [190, 310], "nice": false, "zero": false},
                "axis": {"orient": "right", "values": [190, 200, 210, 220, 230, 240, 250, 260, 270, 280, 290, 300, 310], "format": "d", "grid": false, "tickSize": 3, "labelPadding": 3.7, "labelFontSize": 13, "title": "Indeks", "titleAngle": 270, "titleX": 35, "titleBaseline": "middle"}},
          "color": {"datum": "Oslo børs (h.s.)", "type": "nominal", "scale": {"domain": ["Oslo børs (h.s.)", "Nikkei (v.s.)", "Dow Jones (v.s.)"], "range": ["#f0a030", "#cc4a1c", "#19385f"]}, "legend": null}}},
       {"data": {"name": "stocks"},
        "mark": {"type": "line", "strokeWidth": 2},
        "encoding": {
          "x": {"field": "d", "type": "quantitative",
                "axis": {"orient": "bottom", "values": [1, 32, 60, 91, 121, 152, 182, 213], "labels": false, "ticks": true, "tickSize": 5, "grid": false, "title": "2009", "titleFontSize": 13, "titleY": 37.3, "titleBaseline": "middle"}},
          "y": {"field": "v", "type": "quantitative", "scale": {"domain": [6500, 11000], "nice": false, "zero": false},
                "axis": {"orient": "left", "values": [6500, 7000, 7500, 8000, 8500, 9000, 9500, 10000, 10500, 11000], "format": "d", "grid": true, "domain": false, "ticks": false, "labelPadding": 4, "labelFontSize": 13.5, "title": "Indeks", "titleX": -52.7, "titleBaseline": "middle"}},
          "color": {"field": "s", "type": "nominal", "scale": {"domain": ["Oslo børs (h.s.)", "Nikkei (v.s.)", "Dow Jones (v.s.)"], "range": ["#f0a030", "#cc4a1c", "#19385f"]}, "legend": null}}},
       {"data": {"values": [{"d": 67.3, "v": 10580, "s": "Oslo børs (h.s.)"}, {"d": 52.3, "v": 9522, "s": "Nikkei (v.s.)"}, {"d": 132.8, "v": 8026, "s": "Dow Jones (v.s.)"}]},
        "mark": {"type": "text", "align": "left", "baseline": "middle", "fontSize": 16.2},
        "encoding": {
          "x": {"field": "d", "type": "quantitative", "axis": null},
          "y": {"field": "v", "type": "quantitative", "scale": {"domain": [6500, 11000], "nice": false, "zero": false}, "axis": null},
          "text": {"field": "s"},
          "color": {"field": "s", "type": "nominal", "scale": {"domain": ["Oslo børs (h.s.)", "Nikkei (v.s.)", "Dow Jones (v.s.)"], "range": ["#f0a030", "#cc4a1c", "#19385f"]}, "legend": null}}}
     ],
     "resolve": {"scale": {"y": "independent"}, "axis": {"x": "independent", "y": "independent"}}
    },
    {"width": 157, "height": 1, "data": {"values": [{}]}, "mark": {"type": "text", "text": ""}},
    {"width": 391, "height": 261.6,
     "title": {"text": "Avkastningskurver statsobligasjoner", "dx": 3.3, "offset": 9.5},
     "view": {"stroke": "#bbbbbb", "strokeWidth": 1},
     "layer": [
       {"data": {"name": "yields"},
        "mark": {"type": "line", "strokeWidth": 1.8},
        "encoding": {
          "x": {"field": "m", "type": "ordinal", "scale": {"type": "point", "padding": 0.5, "domain": ["1år", "2 år", "5 år", "7 år", "10år"]},
                "axis": {"orient": "bottom", "labelAngle": 0, "tickSize": 5, "labelPadding": 13.7, "labelBaseline": "middle", "labelFontSize": 12, "grid": false, "title": "Source: Reuters EcoWin", "titleFontSize": 12, "titleAlign": "right", "titleX": 389.3, "titleY": 38.7, "titleBaseline": "middle"}},
          "y": {"field": "v", "type": "quantitative", "scale": {"domain": [0, 4.5], "nice": false, "zero": false},
                "axis": {"orient": "left", "values": [0, 0.5, 1, 1.5, 2, 2.5, 3, 3.5, 4, 4.5], "format": ".1f", "grid": true, "tickSize": 3, "labelPadding": 2, "title": "Prosent", "titleX": -35.7, "titleBaseline": "middle"}},
          "color": {"field": "c", "type": "nominal", "scale": {"domain": ["Norge", "Eurosonen", "Sverige", "USA"], "range": ["#19385f", "#f0a030", "#b8442a", "#2e8b2e"]}, "legend": null},
          "order": {"value": null}}},
       {"data": {"values": [{"m": "2 år", "v": 3.19, "c": "Norge"}]},
        "mark": {"type": "text", "align": "left", "baseline": "middle", "dx": 30, "fontSize": 16.4},
        "encoding": {"x": {"field": "m", "type": "ordinal", "axis": null}, "y": {"field": "v", "type": "quantitative", "axis": null}, "text": {"field": "c"}, "color": {"field": "c", "type": "nominal", "scale": {"domain": ["Norge", "Eurosonen", "Sverige", "USA"], "range": ["#19385f", "#f0a030", "#b8442a", "#2e8b2e"]}, "legend": null}}},
       {"data": {"values": [{"m": "2 år", "v": 1.12, "c": "Sverige"}]},
        "mark": {"type": "text", "align": "left", "baseline": "middle", "dx": 18, "fontSize": 16.4},
        "encoding": {"x": {"field": "m", "type": "ordinal", "axis": null}, "y": {"field": "v", "type": "quantitative", "axis": null}, "text": {"field": "c"}, "color": {"field": "c", "type": "nominal", "scale": {"domain": ["Norge", "Eurosonen", "Sverige", "USA"], "range": ["#19385f", "#f0a030", "#b8442a", "#2e8b2e"]}, "legend": null}}},
       {"data": {"values": [{"m": "1år", "v": 1.4, "c": "Eurosonen"}]},
        "mark": {"type": "text", "align": "left", "baseline": "middle", "dx": -11, "fontSize": 16.4},
        "encoding": {"x": {"field": "m", "type": "ordinal", "axis": null}, "y": {"field": "v", "type": "quantitative", "axis": null}, "text": {"field": "c"}, "color": {"field": "c", "type": "nominal", "scale": {"domain": ["Norge", "Eurosonen", "Sverige", "USA"], "range": ["#19385f", "#f0a030", "#b8442a", "#2e8b2e"]}, "legend": null}}},
       {"data": {"values": [{"m": "10år", "v": 3.79, "c": "USA"}]},
        "mark": {"type": "text", "align": "right", "baseline": "middle", "dx": 0, "fontSize": 16.4},
        "encoding": {"x": {"field": "m", "type": "ordinal", "axis": null}, "y": {"field": "v", "type": "quantitative", "axis": null}, "text": {"field": "c"}, "color": {"field": "c", "type": "nominal", "scale": {"domain": ["Norge", "Eurosonen", "Sverige", "USA"], "range": ["#19385f", "#f0a030", "#b8442a", "#2e8b2e"]}, "legend": null}}}
     ],
     "resolve": {"axis": {"x": "independent", "y": "independent"}}
    }
   ]},

  {"width": 1, "height": 545, "data": {"values": [{}]}, "mark": {"type": "text", "text": ""}},

  {"width": 954, "height": 28,
   "layer": [
     {"data": {"values": [{}]},
      "mark": {"type": "rule", "color": "#333", "strokeWidth": 1.3},
      "encoding": {"y": {"datum": 1, "type": "quantitative", "scale": {"domain": [0, 1]}, "axis": null}}},
     {"data": {"values": [{"t": "12. august 2009"}]},
      "mark": {"type": "text", "align": "left", "baseline": "middle", "dx": 3, "dy": 3.7, "fontSize": 15.5, "color": "#111"},
      "encoding": {"x": {"datum": 0, "type": "quantitative", "scale": {"domain": [0, 1]}, "axis": null}, "text": {"field": "t"}}},
     {"data": {"values": [{"t": "2"}]},
      "mark": {"type": "text", "align": "right", "baseline": "middle", "dx": -2, "dy": 3.7, "fontSize": 15.5, "color": "#111"},
      "encoding": {"x": {"datum": 1, "type": "quantitative", "axis": null}, "text": {"field": "t"}}}
   ]}
]
}
